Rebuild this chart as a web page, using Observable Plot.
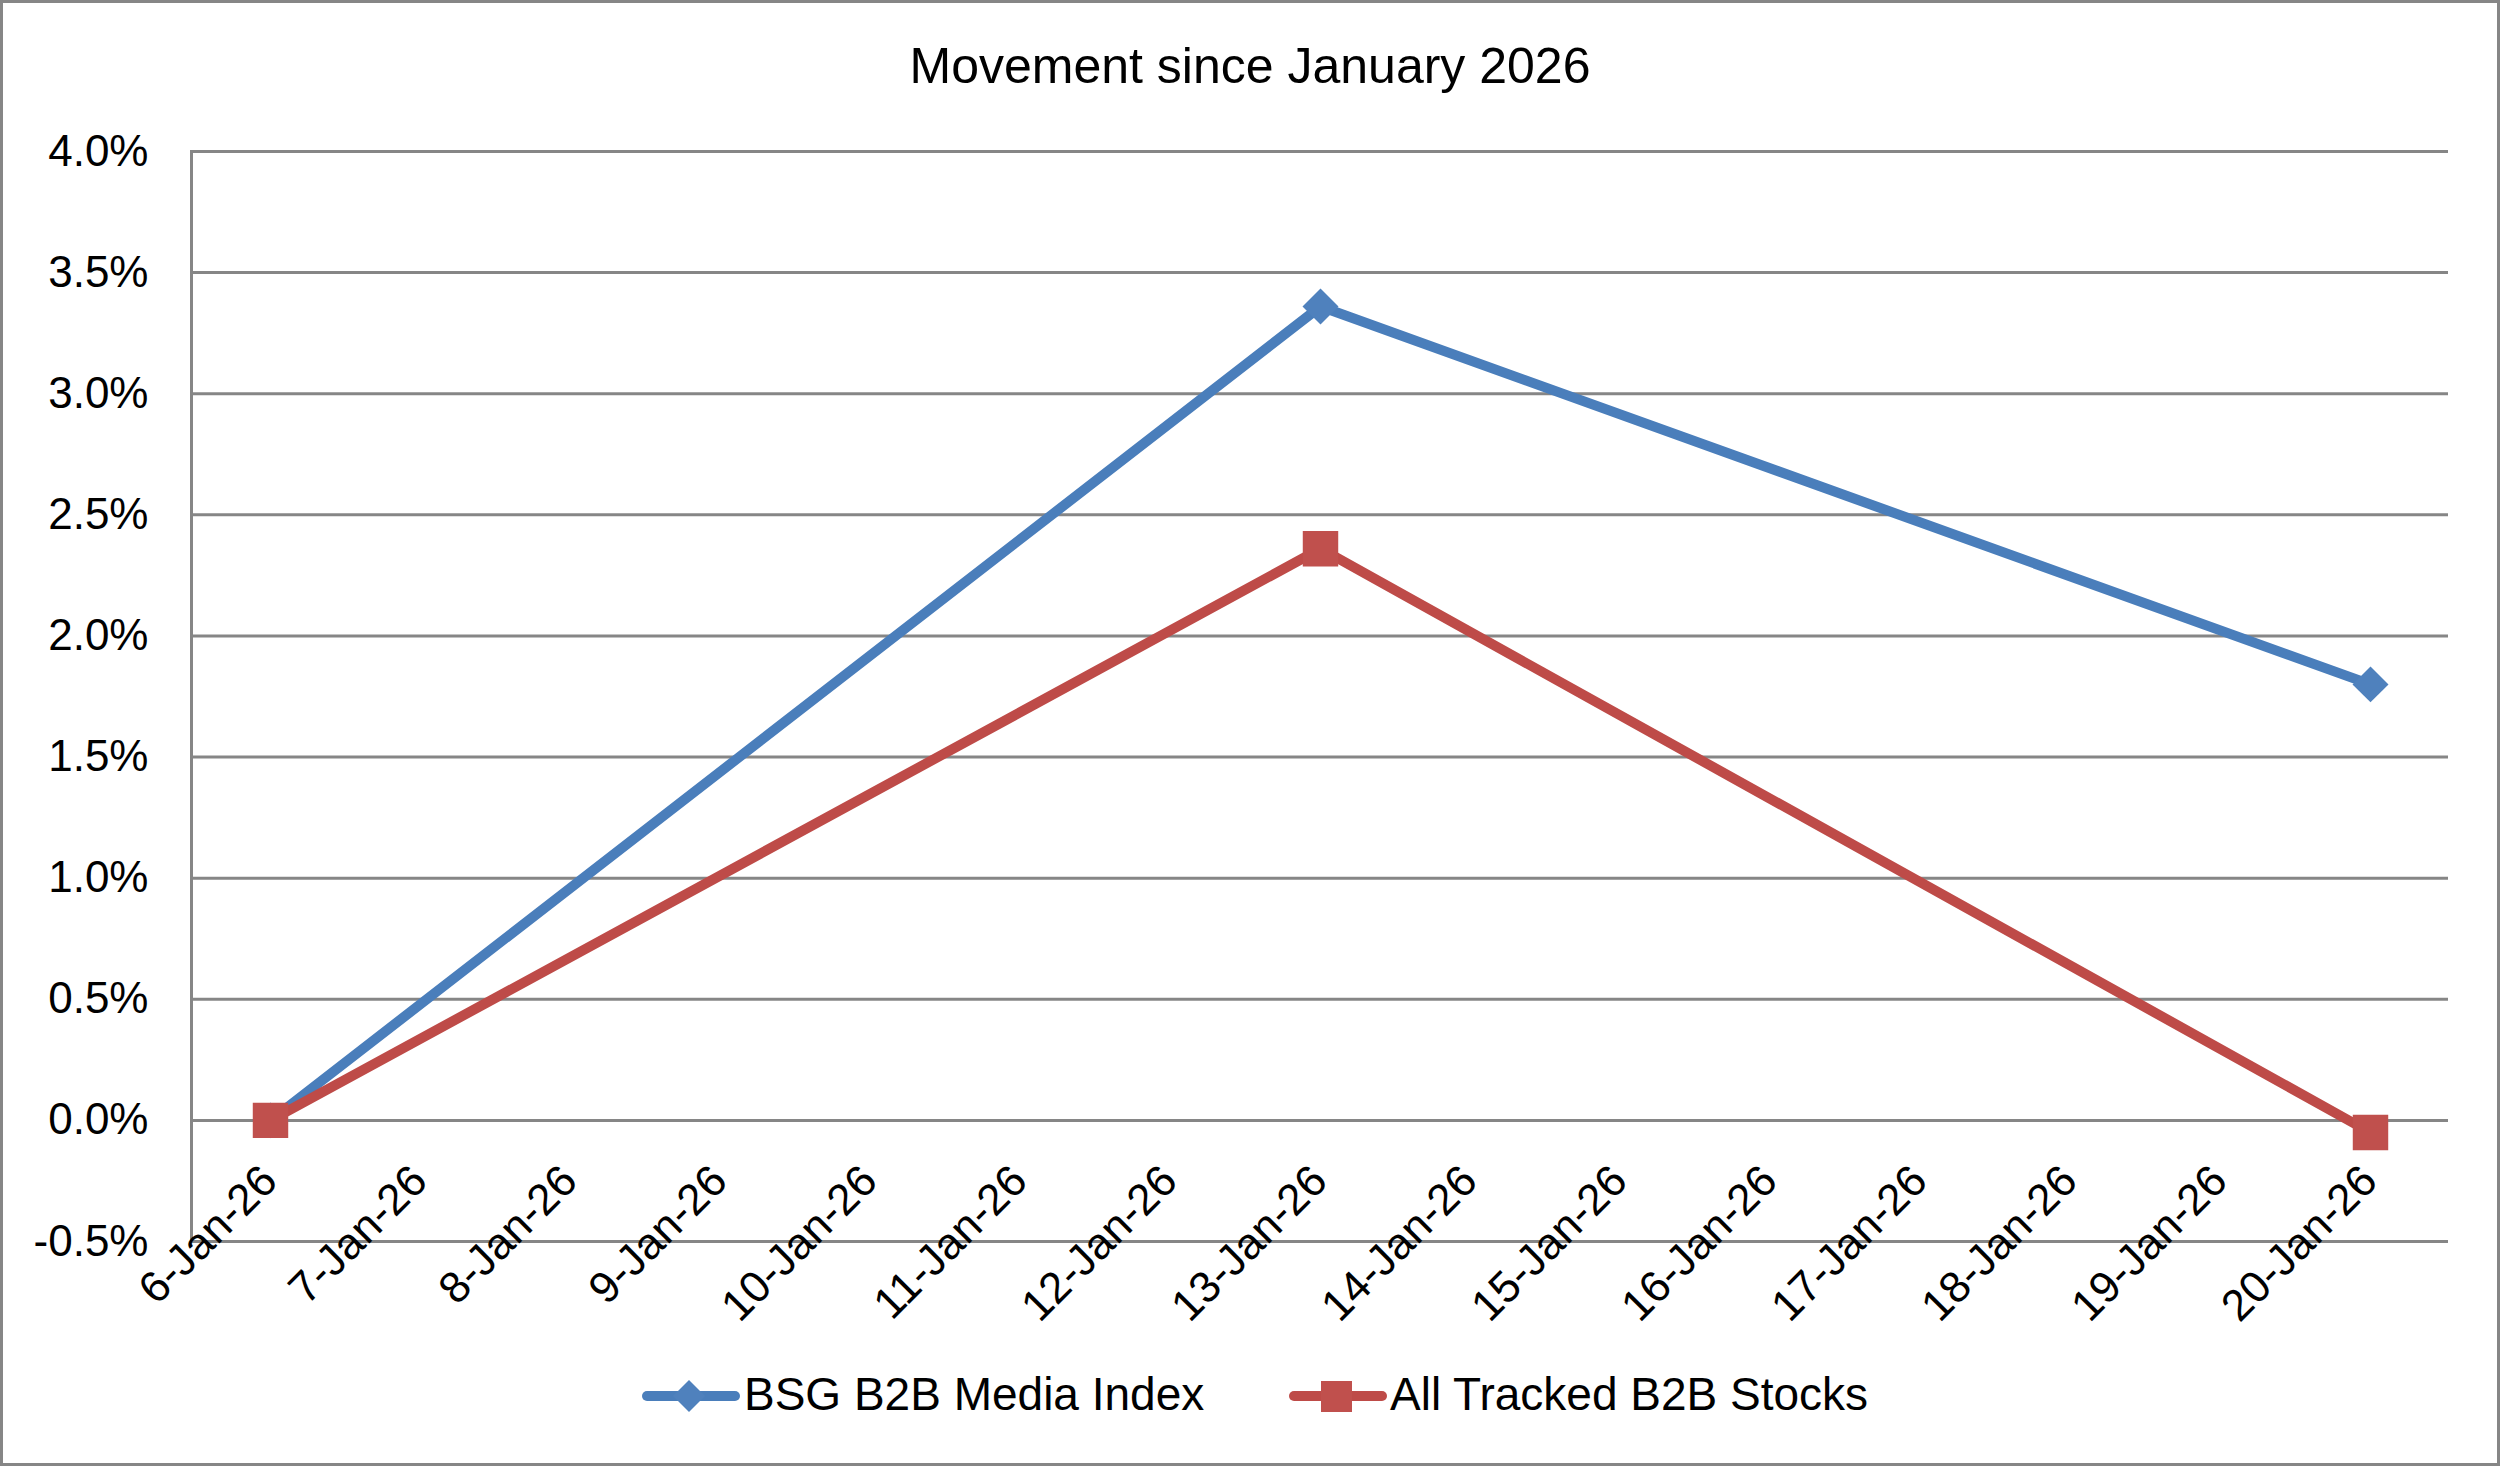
<!DOCTYPE html>
<html>
<head>
<meta charset="utf-8">
<script src="https://cdn.jsdelivr.net/npm/d3@7"></script>
<script src="https://cdn.jsdelivr.net/npm/@observablehq/plot@0.6"></script>
<style>
  html, body { margin: 0; padding: 0; background: #fff; }
  #chart { position: relative; width: 2500px; height: 1466px; overflow: hidden; background: #fff;
           font-family: "Liberation Sans", Arial, Helvetica, sans-serif; color: #000; }
  #border { position: absolute; left: 0; top: 0; width: 2500px; height: 1466px; box-sizing: border-box;
            border: 3px solid #868686; pointer-events: none; }
  #title { position: absolute; left: 0; width: 2500px; top: 41px; text-align: center;
           font-size: 50px; line-height: 50px; white-space: nowrap; }
  #plot { position: absolute; left: 0; top: 0; }
  .leg { position: absolute; font-size: 46px; line-height: 46px; white-space: nowrap; }
  .sw { position: absolute; }
</style>
</head>
<body>
<div id="chart">
  <div id="plot"></div>
  <div id="title"></div>
  <div id="legend"></div>
  <div id="border"></div>
</div>
<script>
// ---- data ----
const titleText = "Movement since January 2026";
const categories = ["6-Jan-26","7-Jan-26","8-Jan-26","9-Jan-26","10-Jan-26","11-Jan-26","12-Jan-26",
  "13-Jan-26","14-Jan-26","15-Jan-26","16-Jan-26","17-Jan-26","18-Jan-26","19-Jan-26","20-Jan-26"];
const seriesNames = ["BSG B2B Media Index", "All Tracked B2B Stocks"];
const pointDates = ["6-Jan-26", "13-Jan-26", "20-Jan-26"];
const bsgValues = [0.0, 3.36, 1.80];
const allTrackedValues = [0.0, 2.36, -0.05];
const yTicks = [-0.5, 0.0, 0.5, 1.0, 1.5, 2.0, 2.5, 3.0, 3.5, 4.0];

const seriesColors = ["#4A7EBB", "#BE4B48"];
const markerColors = ["#4F81BD", "#C0504D"];
const gridColor = "#868686";

const bsg = pointDates.map((d, i) => ({date: d, value: bsgValues[i], series: seriesNames[0]}));
const allT = pointDates.map((d, i) => ({date: d, value: allTrackedValues[i], series: seriesNames[1]}));

document.getElementById("title").textContent = titleText;

const chart = Plot.plot({
  width: 2500,
  height: 1466,
  marginLeft: 191,
  marginRight: 52,
  marginTop: 151,
  marginBottom: 225,
  style: {fontFamily: "'Liberation Sans', Arial, sans-serif", fontSize: "44px", background: "transparent", color: "#000", overflow: "visible"},
  x: {type: "point", domain: categories, padding: 0.5, axis: null},
  y: {domain: [-0.5, 4.0]},
  marks: [
    Plot.gridY({ticks: yTicks, stroke: gridColor, strokeOpacity: 1, strokeWidth: 3}),
    Plot.frame({anchor: "left", stroke: gridColor, strokeWidth: 3}),
    Plot.axisY({ticks: yTicks, tickFormat: d => d.toFixed(1) + "%", tickSize: 0, tickPadding: 43, fontSize: 44, label: null}),
    Plot.text(categories, {x: d => d, y: () => 0, text: d => d, rotate: -45, textAnchor: "end", lineAnchor: "bottom", dx: 9, dy: 63, fontSize: 44, fill: "#000"}),
    Plot.line(bsg, {x: "date", y: "value", stroke: seriesColors[0], strokeWidth: 10, strokeLinejoin: "round", strokeLinecap: "round"}),
    Plot.dot(bsg, {x: "date", y: "value", symbol: "diamond2", r: 16.2, fill: markerColors[0], stroke: "none"}),
    Plot.line(allT, {x: "date", y: "value", stroke: seriesColors[1], strokeWidth: 10, strokeLinejoin: "round", strokeLinecap: "round"}),
    Plot.dot(allT, {x: "date", y: "value", symbol: "square", r: 20, fill: markerColors[1], stroke: "none"})
  ]
});
document.getElementById("plot").appendChild(chart);

// ---- legend ----
const legend = document.getElementById("legend");
const legendItems = [
  {name: seriesNames[0], color: seriesColors[0], marker: markerColors[0], shape: "diamond", x0: 642, textX: 744},
  {name: seriesNames[1], color: seriesColors[1], marker: markerColors[1], shape: "square", x0: 1289, textX: 1390}
];
const legendY = 1396;
for (const it of legendItems) {
  const ns = "http://www.w3.org/2000/svg";
  const svg = document.createElementNS(ns, "svg");
  svg.setAttribute("class", "sw");
  svg.setAttribute("width", 100);
  svg.setAttribute("height", 40);
  svg.style.left = it.x0 + "px";
  svg.style.top = (legendY - 20) + "px";
  const ln = document.createElementNS(ns, "line");
  ln.setAttribute("x1", 5); ln.setAttribute("x2", 93); ln.setAttribute("y1", 20); ln.setAttribute("y2", 20);
  ln.setAttribute("stroke", it.color); ln.setAttribute("stroke-width", 10); ln.setAttribute("stroke-linecap", "round");
  svg.appendChild(ln);
  const mk = document.createElementNS(ns, "path");
  if (it.shape === "diamond") mk.setAttribute("d", "M47,4 L63,20 L47,36 L31,20 Z");
  else mk.setAttribute("d", "M32,5 H63 V36 H32 Z");
  mk.setAttribute("fill", it.marker);
  svg.appendChild(mk);
  legend.appendChild(svg);
  const t = document.createElement("div");
  t.className = "leg";
  t.textContent = it.name;
  t.style.left = it.textX + "px";
  t.style.top = (1410 - 39) + "px";
  legend.appendChild(t);
}
</script>
</body>
</html>
